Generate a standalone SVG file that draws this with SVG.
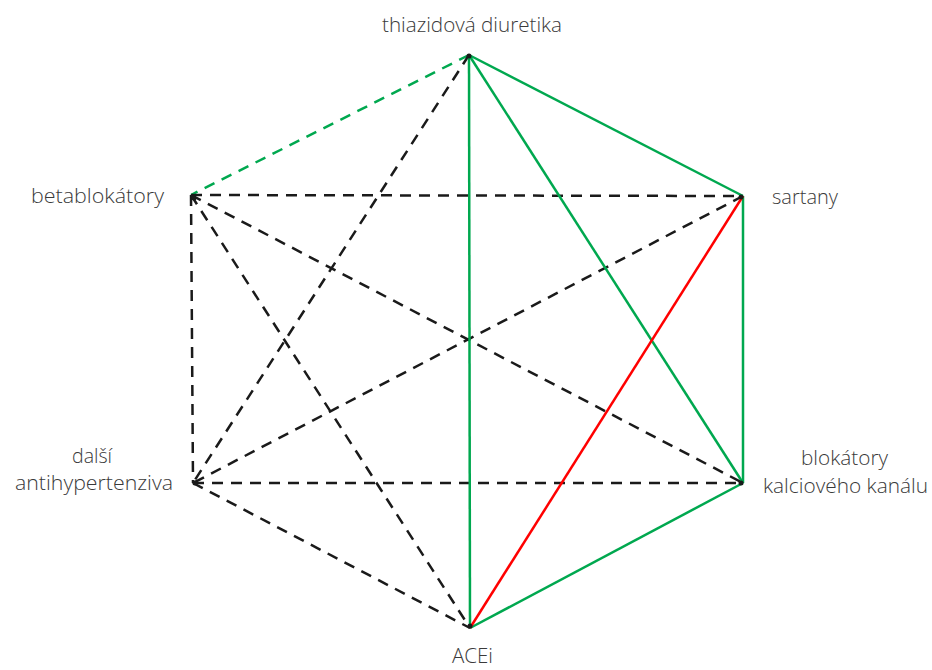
<svg xmlns="http://www.w3.org/2000/svg" width="932" height="670" viewBox="0 0 932 670">
<style>
.g{stroke:#00a84f;stroke-width:2.5;fill:none}
.r{stroke:#ff0000;stroke-width:2.5;fill:none}
.d{stroke:#1a1a1a;stroke-width:2.5;fill:none;stroke-dasharray:11 8}
.gd{stroke:#00a84f;stroke-width:2.5;fill:none;stroke-dasharray:11 8}
text{font-family:"Open Sans","Liberation Sans",sans-serif;font-size:20.5px;fill:#3a3a3a;font-weight:300}
.dot{fill:#1a1a1a}
</style>
<rect width="932" height="670" fill="#fff"/>
<g id="connectors">
<line class="gd" x1="469" y1="55" x2="191" y2="195"/>
<line class="d" x1="191" y1="195" x2="743" y2="196"/>
<line class="d" x1="191" y1="195" x2="193" y2="483"/>
<line class="d" x1="191" y1="195" x2="743" y2="483"/>
<line class="d" x1="191" y1="195" x2="470" y2="628"/>
<line class="d" x1="469" y1="55" x2="193" y2="483"/>
<line class="d" x1="743" y1="196" x2="193" y2="483"/>
<line class="d" x1="193" y1="483" x2="743" y2="483"/>
<line class="d" x1="193" y1="483" x2="470" y2="628"/>
<line class="g" x1="469" y1="55" x2="743" y2="196"/>
<line class="g" x1="469" y1="55" x2="470" y2="628"/>
<line class="g" x1="469" y1="55" x2="743" y2="483"/>
<line class="g" x1="743" y1="196" x2="743" y2="483"/>
<line class="g" x1="743" y1="483" x2="470" y2="628"/>
<line class="r" x1="743" y1="196" x2="470" y2="628"/>
</g>
<g id="thiazid"><circle class="dot" cx="469" cy="56" r="2.5"/><text x="382" y="32" textLength="180" lengthAdjust="spacingAndGlyphs">thiazidová diuretika</text></g>
<g id="sartany"><circle class="dot" cx="741" cy="197" r="2.5"/><text x="772" y="204" textLength="66" lengthAdjust="spacingAndGlyphs">sartany</text></g>
<g id="blokatory"><circle class="dot" cx="741" cy="483" r="2.5"/><text x="801" y="465" textLength="87" lengthAdjust="spacingAndGlyphs">blokátory</text><text x="763" y="493" textLength="165" lengthAdjust="spacingAndGlyphs">kalciového kanálu</text></g>
<g id="acei"><circle class="dot" cx="470" cy="626" r="2.5"/><text x="452" y="663" textLength="41" lengthAdjust="spacingAndGlyphs">ACEi</text></g>
<g id="dalsi"><circle class="dot" cx="195" cy="483" r="2.5"/><text x="72" y="463" textLength="40" lengthAdjust="spacingAndGlyphs">další</text><text x="15" y="490" textLength="158" lengthAdjust="spacingAndGlyphs">antihypertenziva</text></g>
<g id="betablokatory"><circle class="dot" cx="194" cy="198" r="2.5"/><text x="31" y="203" textLength="133" lengthAdjust="spacingAndGlyphs">betablokátory</text></g>
</svg>
